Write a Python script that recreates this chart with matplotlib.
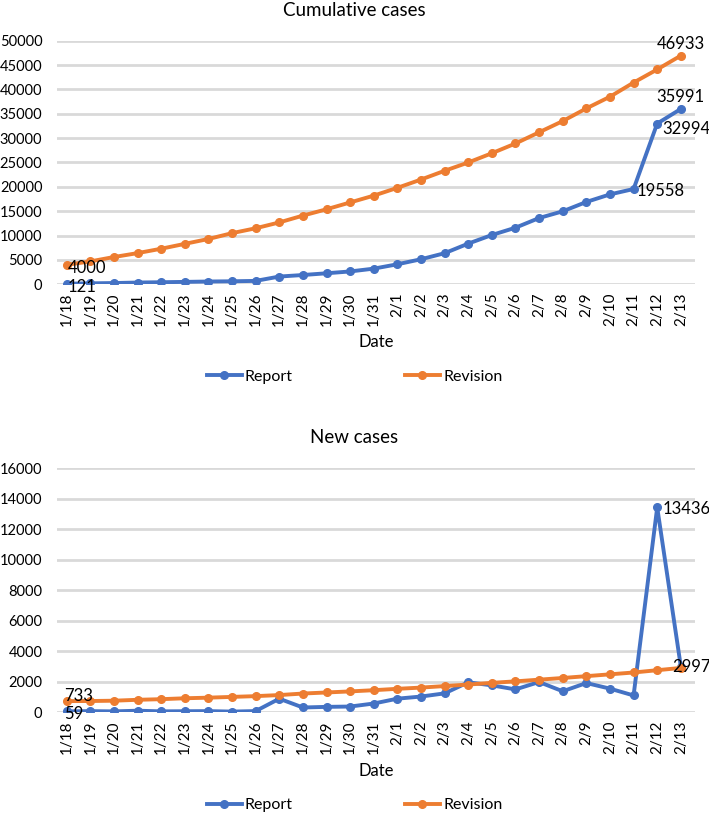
import matplotlib.pyplot as plt
from matplotlib.lines import Line2D

plt.rcParams['font.family'] = ['Lato', 'DejaVu Sans']

dates = ['1/18', '1/19', '1/20', '1/21', '1/22', '1/23', '1/24', '1/25', '1/26',
         '1/27', '1/28', '1/29', '1/30', '1/31', '2/1', '2/2', '2/3', '2/4', '2/5',
         '2/6', '2/7', '2/8', '2/9', '2/10', '2/11', '2/12', '2/13']

cum_report = [121, 198, 258, 363, 425, 495, 572, 618, 698, 1590, 1905, 2261, 2639,
              3215, 4109, 5142, 6384, 8351, 10117, 11618, 13603, 14982, 16902,
              18454, 19558, 32994, 35991]
cum_revision = [4000, 4700, 5600, 6400, 7300, 8300, 9300, 10500, 11500, 12700,
                14100, 15400, 16800, 18200, 19800, 21500, 23300, 25000, 26900,
                28900, 31200, 33500, 36100, 38500, 41400, 44100, 46933]

new_report = [59, 77, 60, 105, 62, 70, 77, 46, 80, 892, 315, 356, 378, 576, 894,
              1033, 1242, 1967, 1766, 1501, 1985, 1379, 1920, 1552, 1104, 13436, 2997]
new_revision = [733, 740, 760, 820, 860, 920, 960, 1010, 1060, 1130, 1230, 1300,
                1370, 1450, 1540, 1620, 1720, 1820, 1930, 2030, 2140, 2250, 2370,
                2490, 2610, 2760, 2910]

BLUE = '#4472C4'
ORANGE = '#ED7D31'
GRID = '#d9d9d9'
PX = 0.72  # points per pixel at dpi 100

W, H = 709, 813
fig = plt.figure(figsize=(W / 100, H / 100), dpi=100)


def draw_panel(ax, report, revision, title, ymax, ystep, title_y, date_y, legend_y, labels):
    x = range(len(dates))
    ax.plot(x, report, color=BLUE, lw=2.8, marker='o', ms=5.5, zorder=3)
    ax.plot(x, revision, color=ORANGE, lw=2.8, marker='o', ms=5.5, zorder=3)

    ax.set_xlim(-0.41, len(dates) - 1 + 0.6)
    ax.set_ylim(0, ymax)
    ax.set_yticks(range(0, ymax + 1, ystep))
    ax.set_xticks(list(x))
    ax.set_xticklabels(dates, rotation=90, fontsize=11)
    ax.tick_params(axis='y', labelsize=10.5, length=0, pad=10.5)
    ax.tick_params(axis='x', length=0, pad=6)
    ax.yaxis.grid(True, color=GRID, lw=2)
    ax.set_axisbelow(True)
    for s in ax.spines.values():
        s.set_visible(False)

    for series, i, dx, dy, ha, va in labels:
        vals = report if series == 'report' else revision
        ax.annotate(str(vals[i]), (i, vals[i]), xytext=(dx * PX, dy * PX),
                    textcoords='offset points', ha=ha, va=va, fontsize=12, zorder=4)

    fig.text(0.5, 1 - title_y / H, title, ha='center', va='center', fontsize=13.5)
    pos = ax.get_position()
    fig.text((pos.x0 + pos.x1) / 2, 1 - date_y / H, 'Date', ha='center', va='center',
             fontsize=12)

    handles = [Line2D([], [], color=BLUE, lw=2.8, marker='o', ms=5.5),
               Line2D([], [], color=ORANGE, lw=2.8, marker='o', ms=5.5)]
    fig.legend(handles, ['Report', 'Revision'], loc='center', ncol=2, frameon=False,
               bbox_to_anchor=(0.5, 1 - legend_y / H), fontsize=11.5, handlelength=2.2,
               handletextpad=0.2, columnspacing=7.0)


ax1 = fig.add_axes([57 / W, 1 - 284.3 / H, (695 - 57) / W, 243.6 / H])
ax2 = fig.add_axes([57 / W, 1 - 712.3 / H, (695 - 57) / W, 244 / H])

draw_panel(ax1, cum_report, cum_revision, 'Cumulative cases', 50000, 5000,
           10, 342, 377,
           [('revision', 0, 1, -3, 'left', 'center'),
            ('report', 0, 1, -3, 'left', 'center'),
            ('revision', 26, 0, 4, 'center', 'bottom'),
            ('report', 26, 0, 4, 'center', 'bottom'),
            ('report', 25, 5, -5, 'left', 'center'),
            ('report', 24, 3, -2, 'left', 'center')])

draw_panel(ax2, new_report, new_revision, 'New cases', 16000, 2000,
           437, 771, 805,
           [('revision', 0, -3, 5, 'left', 'center'),
            ('report', 0, -3, -3, 'left', 'center'),
            ('report', 25, 5, -2, 'left', 'center'),
            ('report', 26, -9, 0, 'left', 'center')])

fig.savefig('out.png', dpi=100)
